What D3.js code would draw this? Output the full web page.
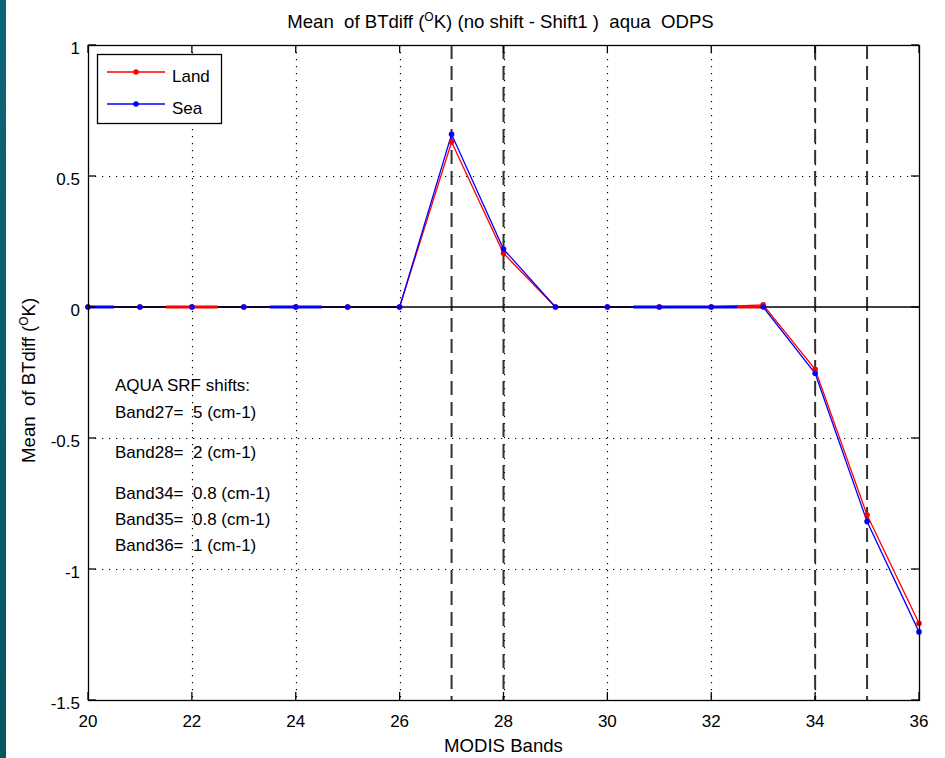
<!DOCTYPE html>
<html>
<head>
<meta charset="utf-8">
<script src="https://cdn.jsdelivr.net/npm/d3@7"></script>
<style>
  html, body { margin: 0; padding: 0; background: #fff; }
  svg { display: block; font-family: "Liberation Sans", Arial, Helvetica, sans-serif; }
  .tick-label { font-size: 17px; fill: #000; }
</style>
</head>
<body>
<svg id="chart" width="945" height="758"></svg>
<script>
const BANDS      = [20, 21, 22, 23, 24, 25, 26, 27, 28, 29, 30, 31, 32, 33, 34, 35, 36];
const LAND_MEAN  = [0, 0, 0, 0, 0, 0, 0, 0.63, 0.205, 0, 0, 0, 0, 0.008, -0.238, -0.794, -1.207];
const SEA_MEAN   = [0, 0, 0, 0, 0, 0, 0, 0.659, 0.221, 0, 0, 0, 0, 0, -0.253, -0.819, -1.24];
const SHIFTED_BANDS = [27, 28, 34, 35];
const X_TICKS    = [20, 22, 24, 26, 28, 30, 32, 34, 36];
const Y_TICKS    = [-1.5, -1, -0.5, 0, 0.5, 1];
const X_DOMAIN   = [20, 36];
const Y_DOMAIN   = [-1.5, 1];

// stretches of the zero line where the coloured trace shows over the black axis line
const ZERO_OVERLAP = [
  { series: "Sea",  from: 20,   to: 20.5 },
  { series: "Land", from: 21.5, to: 22.5 },
  { series: "Sea",  from: 23.5, to: 24.5 },
  { series: "Sea",  from: 30.5, to: 32.5 },
  { series: "Land", from: 32.5, to: 33 },
];

const NOTE_X = 20.52;
const NOTES = [
  { text: "AQUA SRF shifts:",      y: -0.298 },
  { text: "Band27=  5 (cm-1)",     y: -0.40 },
  { text: "Band28=  2 (cm-1)",     y: -0.553 },
  { text: "Band34=  0.8 (cm-1)",   y: -0.71 },
  { text: "Band35=  0.8 (cm-1)",   y: -0.809 },
  { text: "Band36=  1 (cm-1)",     y: -0.908 },
];

const SERIES = [
  { name: "Land", color: "#ff0000", values: LAND_MEAN },
  { name: "Sea",  color: "#0000ff", values: SEA_MEAN },
];

const W = 945, H = 758;
const MARGIN = { top: 45, right: 26, bottom: 58, left: 88 };
const innerW = W - MARGIN.left - MARGIN.right;
const innerH = H - MARGIN.top - MARGIN.bottom;
const LABEL_SIZE = 18.6;

const svg = d3.select("#chart");

// left window edge strip
const grad = svg.append("defs").append("linearGradient")
  .attr("id", "edge").attr("x1", 0).attr("y1", 0).attr("x2", 0).attr("y2", 1);
grad.append("stop").attr("offset", "0%").attr("stop-color", "#0c6479");
grad.append("stop").attr("offset", "100%").attr("stop-color", "#045660");
svg.append("rect").attr("x", 0).attr("y", 0).attr("width", 6).attr("height", H).attr("fill", "url(#edge)");

const x = d3.scaleLinear().domain(X_DOMAIN).range([0, innerW]);
const y = d3.scaleLinear().domain(Y_DOMAIN).range([innerH, 0]);

const g = svg.append("g").attr("transform", `translate(${MARGIN.left},${MARGIN.top})`);

g.append("rect").attr("width", innerW).attr("height", innerH).attr("fill", "#fff");

// dotted grid
g.append("g").selectAll("line")
  .data(X_TICKS.filter(d => d > X_DOMAIN[0] && d < X_DOMAIN[1]))
  .join("line")
    .attr("x1", d => Math.round(x(d)) + 0.5).attr("x2", d => Math.round(x(d)) + 0.5)
    .attr("y1", 0).attr("y2", innerH)
    .attr("stroke", "#000").attr("stroke-width", 1.2).attr("stroke-dasharray", "1.2,5.8");

g.append("g").selectAll("line")
  .data(Y_TICKS.filter(d => d > Y_DOMAIN[0] && d < Y_DOMAIN[1] && d !== 0))
  .join("line")
    .attr("x1", 0).attr("x2", innerW)
    .attr("y1", d => Math.round(y(d)) + 0.5).attr("y2", d => Math.round(y(d)) + 0.5)
    .attr("stroke", "#000").attr("stroke-width", 1.2).attr("stroke-dasharray", "1.2,5.8");

// dashed markers for shifted bands
g.append("g").selectAll("line")
  .data(SHIFTED_BANDS)
  .join("line")
    .attr("x1", d => x(d)).attr("x2", d => x(d))
    .attr("y1", 0).attr("y2", innerH)
    .attr("stroke", "#333").attr("stroke-width", 2).attr("stroke-dasharray", "14,7");

// annotation text
g.append("g").selectAll("text")
  .data(NOTES)
  .join("text")
    .attr("x", x(NOTE_X))
    .attr("y", d => y(d.y) + 6)
    .attr("font-size", 17)
    .style("white-space", "pre")
    .text(d => d.text);

// data lines
const line = d3.line().x(d => x(d[0])).y(d => y(d[1]));
SERIES.forEach(s => {
  g.append("path")
    .datum(BANDS.map((b, i) => [b, s.values[i]]))
    .attr("fill", "none")
    .attr("stroke", s.color)
    .attr("stroke-width", 1.3)
    .attr("d", line);
});

// zero line
g.append("line")
  .attr("x1", 0).attr("x2", innerW)
  .attr("y1", y(0)).attr("y2", y(0))
  .attr("stroke", "#000").attr("stroke-width", 1.3);

const colorOf = Object.fromEntries(SERIES.map(s => [s.name, s.color]));
g.append("g").selectAll("line")
  .data(ZERO_OVERLAP)
  .join("line")
    .attr("x1", d => x(d.from)).attr("x2", d => x(d.to))
    .attr("y1", y(0)).attr("y2", y(0))
    .attr("stroke", d => colorOf[d.series]).attr("stroke-width", 3);

// markers
SERIES.forEach(s => {
  g.append("g").selectAll("circle")
    .data(BANDS.map((b, i) => [b, s.values[i]]))
    .join("circle")
      .attr("cx", d => x(d[0]))
      .attr("cy", d => y(d[1]))
      .attr("r", 2.8)
      .attr("fill", s.color);
});

// frame and ticks
g.append("rect")
  .attr("x", 0.5).attr("y", 0.5).attr("width", innerW).attr("height", innerH)
  .attr("fill", "none").attr("stroke", "#000").attr("stroke-width", 1.3);

const TICK = 8;
const tk = g.append("g").attr("stroke", "#000").attr("stroke-width", 1.3);
X_TICKS.forEach(d => {
  tk.append("line").attr("x1", x(d)).attr("x2", x(d)).attr("y1", innerH).attr("y2", innerH - TICK);
  tk.append("line").attr("x1", x(d)).attr("x2", x(d)).attr("y1", 0).attr("y2", TICK);
});
Y_TICKS.forEach(d => {
  tk.append("line").attr("x1", 0).attr("x2", TICK).attr("y1", y(d)).attr("y2", y(d));
  tk.append("line").attr("x1", innerW).attr("x2", innerW - TICK).attr("y1", y(d)).attr("y2", y(d));
});

g.append("g").selectAll("text")
  .data(X_TICKS)
  .join("text")
    .attr("class", "tick-label")
    .attr("x", d => x(d))
    .attr("y", innerH + 27)
    .attr("text-anchor", "middle")
    .text(d => d);

g.append("g").selectAll("text")
  .data(Y_TICKS)
  .join("text")
    .attr("class", "tick-label")
    .attr("x", -8)
    .attr("y", d => y(d) + 9)
    .attr("text-anchor", "end")
    .text(d => d);

// title
const title = svg.append("text")
  .attr("x", MARGIN.left + innerW / 2 - 3)
  .attr("y", 28)
  .attr("text-anchor", "middle")
  .attr("font-size", LABEL_SIZE)
  .style("white-space", "pre");
title.append("tspan").text("Mean  of BTdiff (");
title.append("tspan").attr("font-size", 12).attr("dy", -7).text("O");
title.append("tspan").attr("dy", 7).text("K) (no shift - Shift1 )  aqua  ODPS");

// x label
svg.append("text")
  .attr("x", MARGIN.left + innerW / 2)
  .attr("y", 752)
  .attr("text-anchor", "middle")
  .attr("font-size", LABEL_SIZE)
  .text("MODIS Bands");

// y label
const ylab = svg.append("text")
  .attr("transform", `translate(35,${MARGIN.top + y(-0.28)}) rotate(-90)`)
  .attr("text-anchor", "middle")
  .attr("font-size", LABEL_SIZE)
  .style("white-space", "pre");
ylab.append("tspan").text("Mean  of BTdiff (");
ylab.append("tspan").attr("font-size", 12).attr("dy", -7).text("O");
ylab.append("tspan").attr("dy", 7).text("K)");

// legend
const lg = g.append("g").attr("transform", `translate(9,9)`);
lg.append("rect")
  .attr("x", 0.5).attr("y", 0.5).attr("width", 124).attr("height", 69)
  .attr("fill", "#fff").attr("stroke", "#000").attr("stroke-width", 1.3);
SERIES.forEach((s, i) => {
  const ly = 18 + i * 32;
  lg.append("line")
    .attr("x1", 10).attr("x2", 68).attr("y1", ly).attr("y2", ly)
    .attr("stroke", s.color).attr("stroke-width", 1.3);
  lg.append("circle").attr("cx", 39).attr("cy", ly).attr("r", 2.8).attr("fill", s.color);
  lg.append("text")
    .attr("x", 75).attr("y", ly + 10)
    .attr("font-size", 17)
    .text(s.name);
});
</script>
</body>
</html>
